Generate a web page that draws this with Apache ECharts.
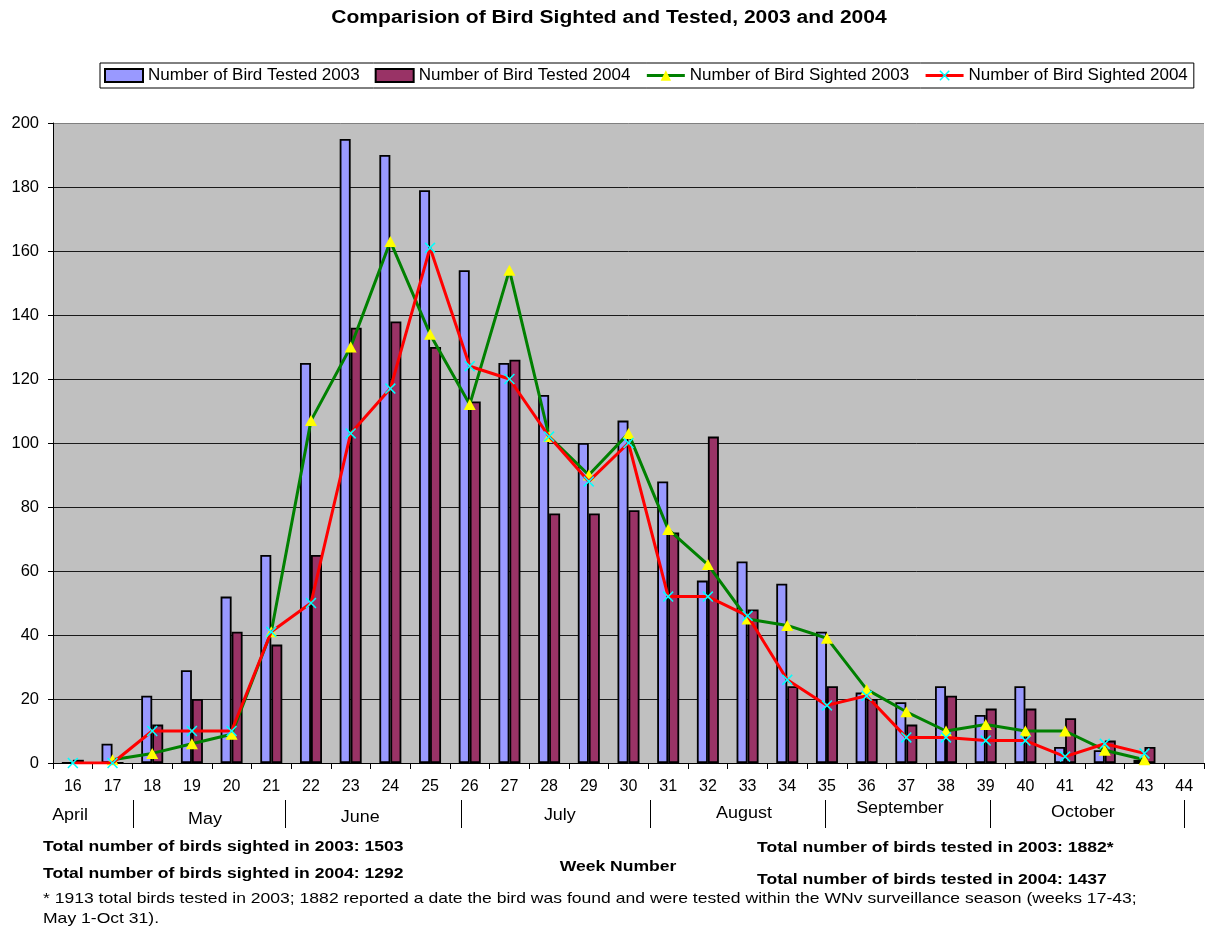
<!DOCTYPE html>
<html>
<head>
<meta charset="utf-8">
<title>Comparision of Bird Sighted and Tested, 2003 and 2004</title>
<script src="https://cdn.jsdelivr.net/npm/echarts@6/dist/echarts.min.js"></script>
<style>
    html, body { margin: 0; padding: 0; background: #fff; }
    #bird-chart { width: 1207px; height: 930px; }
</style>
</head>
<body>
<div id="bird-chart"></div>
<script>
const weeks = ['16', '17', '18', '19', '20', '21', '22', '23', '24', '25', '26', '27', '28', '29', '30',
    '31', '32', '33', '34', '35', '36', '37', '38', '39', '40', '41', '42', '43', '44'];
const tested2003 = [0, 6, 21, 29, 52, 65, 125, 195, 190, 179, 154, 125, 115, 100, 107,
    88, 57, 63, 56, 41, 22, 19, 24, 15, 24, 5, 4, 1, null];
const tested2004 = [1, 0, 12, 20, 41, 37, 65, 136, 138, 130, 113, 126, 78, 78, 79,
    72, 102, 48, 24, 24, 20, 12, 21, 17, 17, 14, 7, 5, null];
const sighted2003 = [null, 1, 3, 6, 9, 41, 107, 130, 163, 134, 112, 154, 102, 90, 103,
    73, 62, 45, 43, 39, 23, 16, 10, 12, 10, 10, 4, 1, null];
const sighted2004 = [0, 0, 10, 10, 10, 41, 50, 103, 117, 161, 124, 120, 102, 88, 100,
    52, 52, 46, 26, 18, 21, 8, 8, 7, 7, 2, 6, 3, null];

// month names under the week axis, placed in week units
const monthNames = ['April', 'May', 'June', 'July', 'August', 'September', 'October'];
const monthCenters = [15.93, 19.33, 23.24, 28.27, 32.91, 36.84, 41.45];
const monthBounds = [17.52, 21.35, 25.78, 30.54, 34.95, 39.1, 44.0];

const notesLeft = [
    'Total number of birds sighted in 2003: 1503',
    'Total number of birds sighted in 2004: 1292'
];
const notesRight = [
    'Total number of birds tested in 2003: 1882*',
    'Total number of birds tested in 2004: 1437'
];
const footnote = [
    '* 1913 total birds tested in 2003; 1882 reported a date the bird was found and were tested within the WNv surveillance season (weeks 17-43;',
    'May 1-Oct 31).'
];

(function () {
    const FONT = '"Liberation Sans", Arial, sans-serif';
    const STRETCH = 1.17; // the source text is drawn a bit wide
    const chart = echarts.init(document.getElementById('bird-chart'));

    // X-shaped marker for the 2004 sighted line
    const crossPath = 'path://M0,1 L1,0 L5,4 L9,0 L10,1 L6,5 L10,9 L9,10 L5,6 L1,10 L0,9 L4,5 Z';

    // gridlines are dark, the top one (200) is grey like the plot border
    const gridColors = ['#1a1a1a', '#1a1a1a', '#1a1a1a', '#1a1a1a', '#1a1a1a', '#1a1a1a',
        '#1a1a1a', '#1a1a1a', '#1a1a1a', '#1a1a1a', '#808080'];

    const option = {
        animation: false,
        backgroundColor: '#fff',
        textStyle: { fontFamily: FONT, color: '#000' },
        legend: {
            left: 100,
            top: 63,
            width: 1095,
            padding: [4, 6, 4, 4],
            borderColor: '#000',
            borderWidth: 1,
            itemWidth: 38,
            itemHeight: 13,
            itemGap: 15,
            textStyle: { fontFamily: FONT, fontSize: 17, color: '#000' },
            data: [
                { name: 'Number of Bird Tested 2003', icon: 'rect' },
                { name: 'Number of Bird Tested 2004', icon: 'rect' },
                { name: 'Number of Bird Sighted 2003', lineStyle: { width: 3 } },
                { name: 'Number of Bird Sighted 2004', lineStyle: { width: 3 } }
            ]
        },
        grid: {
            left: 53,
            right: 3,
            top: 123,
            bottom: 167,
            show: true,
            backgroundColor: '#c0c0c0',
            borderWidth: 0
        },
        xAxis: {
            type: 'category',
            data: weeks,
            boundaryGap: true,
            axisLine: { lineStyle: { color: '#000', width: 1 } },
            axisTick: { show: true, length: 6, lineStyle: { color: '#000' } },
            axisLabel: { fontFamily: FONT, fontSize: 16, color: '#000', margin: 16 }
        },
        yAxis: {
            type: 'value',
            min: 0,
            max: 200,
            interval: 20,
            axisLine: { show: true, lineStyle: { color: '#000', width: 1 } },
            axisTick: { show: true, length: 5, lineStyle: { color: '#000' } },
            axisLabel: { fontFamily: FONT, fontSize: 16.5, color: '#000', margin: 14 },
            splitLine: { show: true, lineStyle: { color: gridColors, width: 1 } }
        },
        series: [
            {
                name: 'Number of Bird Tested 2003',
                type: 'bar',
                data: tested2003,
                barWidth: 11,
                barGap: '0%',
                itemStyle: { color: '#9999ff', borderColor: '#000', borderWidth: 1.8 }
            },
            {
                name: 'Number of Bird Tested 2004',
                type: 'bar',
                data: tested2004,
                barWidth: 11,
                barGap: '0%',
                itemStyle: { color: '#993366', borderColor: '#000', borderWidth: 1.8 }
            },
            {
                name: 'Number of Bird Sighted 2003',
                type: 'line',
                data: sighted2003,
                symbol: 'triangle',
                symbolSize: [12, 11],
                showAllSymbol: true,
                lineStyle: { color: '#008000', width: 3 },
                itemStyle: { color: '#ffff00', borderWidth: 0 },
                z: 3
            },
            {
                name: 'Number of Bird Sighted 2004',
                type: 'line',
                data: sighted2004,
                symbol: crossPath,
                symbolSize: 11,
                showAllSymbol: true,
                lineStyle: { color: '#ff0000', width: 3 },
                itemStyle: { color: '#00ffff', borderWidth: 0 },
                z: 4
            }
        ]
    };
    chart.setOption(option);

    // title, month row, totals and footnote
    const p0 = chart.convertToPixel({ xAxisIndex: 0 }, 0);
    const step = chart.convertToPixel({ xAxisIndex: 0 }, 1) - p0;
    const weekToX = w => p0 + (w - 16) * step;
    const monthY = [816, 820, 818, 816, 814, 809, 813];

    const textEl = (text, x, y, opts) => ({
        type: 'text', x: x, y: y, scaleX: opts.scaleX || STRETCH,
        style: {
            text: text, fontFamily: FONT, fontSize: opts.size || 15,
            fontWeight: opts.bold ? 'bold' : 'normal', fill: '#000',
            align: opts.align || 'left', verticalAlign: 'middle'
        }
    });

    const graphic = [];
    graphic.push(textEl('Comparision of Bird Sighted and Tested, 2003 and 2004', 609, 18,
        { size: 18, bold: true, align: 'center' }));
    monthNames.forEach((name, i) => {
        graphic.push(textEl(name, weekToX(monthCenters[i]), monthY[i],
            { size: 16, align: 'center', scaleX: 1.12 }));
    });
    monthBounds.forEach(w => {
        const x = Math.round(weekToX(w)) + 0.5;
        graphic.push({
            type: 'line',
            shape: { x1: x, y1: 800, x2: x, y2: 828 },
            style: { stroke: '#000', lineWidth: 1 }
        });
    });
    graphic.push(textEl(notesLeft[0], 43, 847, { bold: true }));
    graphic.push(textEl(notesLeft[1], 43, 874, { bold: true }));
    graphic.push(textEl(notesRight[0], 757, 848, { bold: true }));
    graphic.push(textEl(notesRight[1], 757, 880, { bold: true }));
    graphic.push(textEl('Week Number', 618, 867, { bold: true, align: 'center' }));
    footnote.forEach((line, i) => {
        graphic.push(textEl(line, 43, 899 + i * 20, {}));
    });
    chart.setOption({ graphic: graphic });
})();
</script>
</body>
</html>
